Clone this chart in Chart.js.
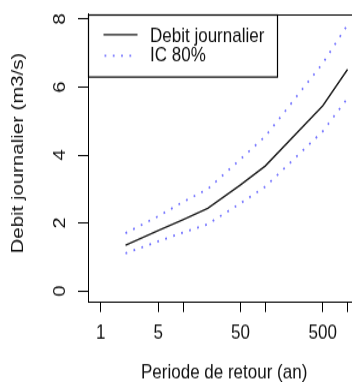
<!DOCTYPE html>
<html>
<head>
<meta charset="utf-8">
<script src="https://cdn.jsdelivr.net/npm/chart.js@4/dist/chart.umd.min.js"></script>
<style>
  html, body { margin: 0; padding: 0; background: #fff; width: 352px; height: 382px; }
  #frame { position: relative; width: 352px; height: 382px; overflow: hidden; }
  #wrap { position: absolute; left: 0; top: 0; width: 352px; height: 318px;
          transform-origin: 0 0; transform: scale(1, 1.2013); }
</style>
</head>
<body>
<div id="frame"><div id="wrap"><canvas id="plot" width="352" height="318"></canvas></div></div>
<script>
// Return periods (years) and daily flow quantiles with 80% confidence band (m3/s)
const returnPeriods = [2, 5, 10, 20, 50, 100, 500, 1000];
const dailyFlow     = [1.35, 1.78, 2.10, 2.43, 3.12, 3.68, 5.45, 6.52];
const upper80       = [1.70, 2.20, 2.62, 3.00, 3.88, 4.55, 6.70, 7.83];
const lower80       = [1.11, 1.46, 1.72, 1.97, 2.58, 3.07, 4.70, 5.67];

// Axis ticks
const xTicks      = [1, 5, 10, 50, 100, 500, 1000];
const xTickLabels = ['1', '5', '', '50', '', '500', ''];
const yTicks      = [0, 2, 4, 6, 8];
const yTickLabels = ['0', '2', '4', '6', '8'];

const xTitle = 'Periode de retour (an)';
const yTitle = 'Debit journalier (m3/s)';

const FONT = '17px "Liberation Sans", Arial, Helvetica, sans-serif';
const INK = '#111';

const toPoints = vals => returnPeriods.map((t, i) => ({ x: t, y: vals[i] }));

const dotted = [1.8, 6.5];
const blue = 'rgba(45,45,255,0.66)';

// Axis labels, frame top edge and the framed legend
const decor = {
  id: 'decor',
  afterDraw(chart) {
    const { ctx, chartArea: a, scales: { x, y } } = chart;
    ctx.save();

    ctx.strokeStyle = '#000';
    ctx.lineWidth = 1;
    ctx.beginPath();
    ctx.moveTo(a.left, Math.round(a.top) + 0.5);
    ctx.lineTo(a.right, Math.round(a.top) + 0.5);
    ctx.stroke();

    ctx.font = FONT;
    ctx.fillStyle = INK;

    // x tick labels
    ctx.textAlign = 'center';
    ctx.textBaseline = 'alphabetic';
    xTicks.forEach((v, i) => {
      if (xTickLabels[i]) ctx.fillText(xTickLabels[i], x.getPixelForValue(v), a.bottom + 31.2);
    });

    // y tick labels, written upwards
    yTicks.forEach((v, i) => {
      ctx.save();
      ctx.translate(65, y.getPixelForValue(v));
      ctx.rotate(-Math.PI / 2);
      ctx.textAlign = 'center';
      ctx.fillText(yTickLabels[i], 0, 0);
      ctx.restore();
    });

    // axis titles
    ctx.textAlign = 'center';
    ctx.fillText(xTitle, x.getPixelForValue(Math.sqrt(1000)), 315.2);
    ctx.save();
    ctx.translate(22.5, 127.4);
    ctx.rotate(-Math.PI / 2);
    ctx.fillText(yTitle, 0, 0);
    ctx.restore();

    // legend
    const lx = a.left, ly = a.top, lw = 189, lh = 51.6;
    ctx.strokeStyle = '#000';
    ctx.lineWidth = 1.2;
    ctx.strokeRect(Math.round(lx) + 0.5, Math.round(ly) + 0.5, lw, lh);

    const seen = new Set();
    const items = chart.data.datasets.filter(d => !seen.has(d.label) && seen.add(d.label));
    const rows = [{ line: 28.9, text: 35.2 }, { line: 46.4, text: 50.5 }];
    items.forEach((d, i) => {
      ctx.save();
      ctx.strokeStyle = d.borderColor;
      ctx.lineWidth = d.borderWidth;
      ctx.setLineDash(d.borderDash || []);
      ctx.beginPath();
      ctx.moveTo(d.borderDash ? 104.5 : 103.5, rows[i].line);
      ctx.lineTo(137.5, rows[i].line);
      ctx.stroke();
      ctx.restore();
      ctx.textAlign = 'left';
      ctx.fillText(d.label, 150, rows[i].text);
    });

    ctx.restore();
  }
};

new Chart(document.getElementById('plot'), {
  type: 'scatter',
  data: {
    datasets: [
      { label: 'Debit journalier', data: toPoints(dailyFlow), showLine: true,
        borderColor: '#1a1a1a', borderWidth: 1.4, pointRadius: 0, fill: false },
      { label: 'IC 80%', data: toPoints(upper80), showLine: true,
        borderColor: blue, borderWidth: 1.8, borderDash: dotted, pointRadius: 0, fill: false },
      { label: 'IC 80%', data: toPoints(lower80), showLine: true,
        borderColor: blue, borderWidth: 1.8, borderDash: dotted, pointRadius: 0, fill: false }
    ]
  },
  options: {
    responsive: false,
    devicePixelRatio: 1,
    animation: false,
    layout: { padding: { top: 11.65, left: 0, right: 0, bottom: 0 } },
    plugins: { legend: { display: false }, tooltip: { enabled: false } },
    scales: {
      x: {
        type: 'logarithmic',
        min: 0.747,
        max: 1132,
        afterBuildTicks: s => { s.ticks = xTicks.map(v => ({ value: v })); },
        afterFit: s => { s.height = 67; },
        ticks: { display: false },
        grid: { drawOnChartArea: false, drawTicks: true, tickLength: 8.75, color: '#000', lineWidth: 1 },
        border: { display: true, color: '#000', width: 1 }
      },
      y: {
        type: 'linear',
        min: -0.309,
        max: 8.147,
        afterBuildTicks: s => { s.ticks = yTicks.map(v => ({ value: v })); },
        afterFit: s => { s.width = 88; },
        ticks: { display: false },
        grid: { drawOnChartArea: false, drawTicks: true, tickLength: 10, color: '#000', lineWidth: 1 },
        border: { display: true, color: '#000', width: 1 }
      }
    }
  },
  plugins: [decor]
});
</script>
</body>
</html>
